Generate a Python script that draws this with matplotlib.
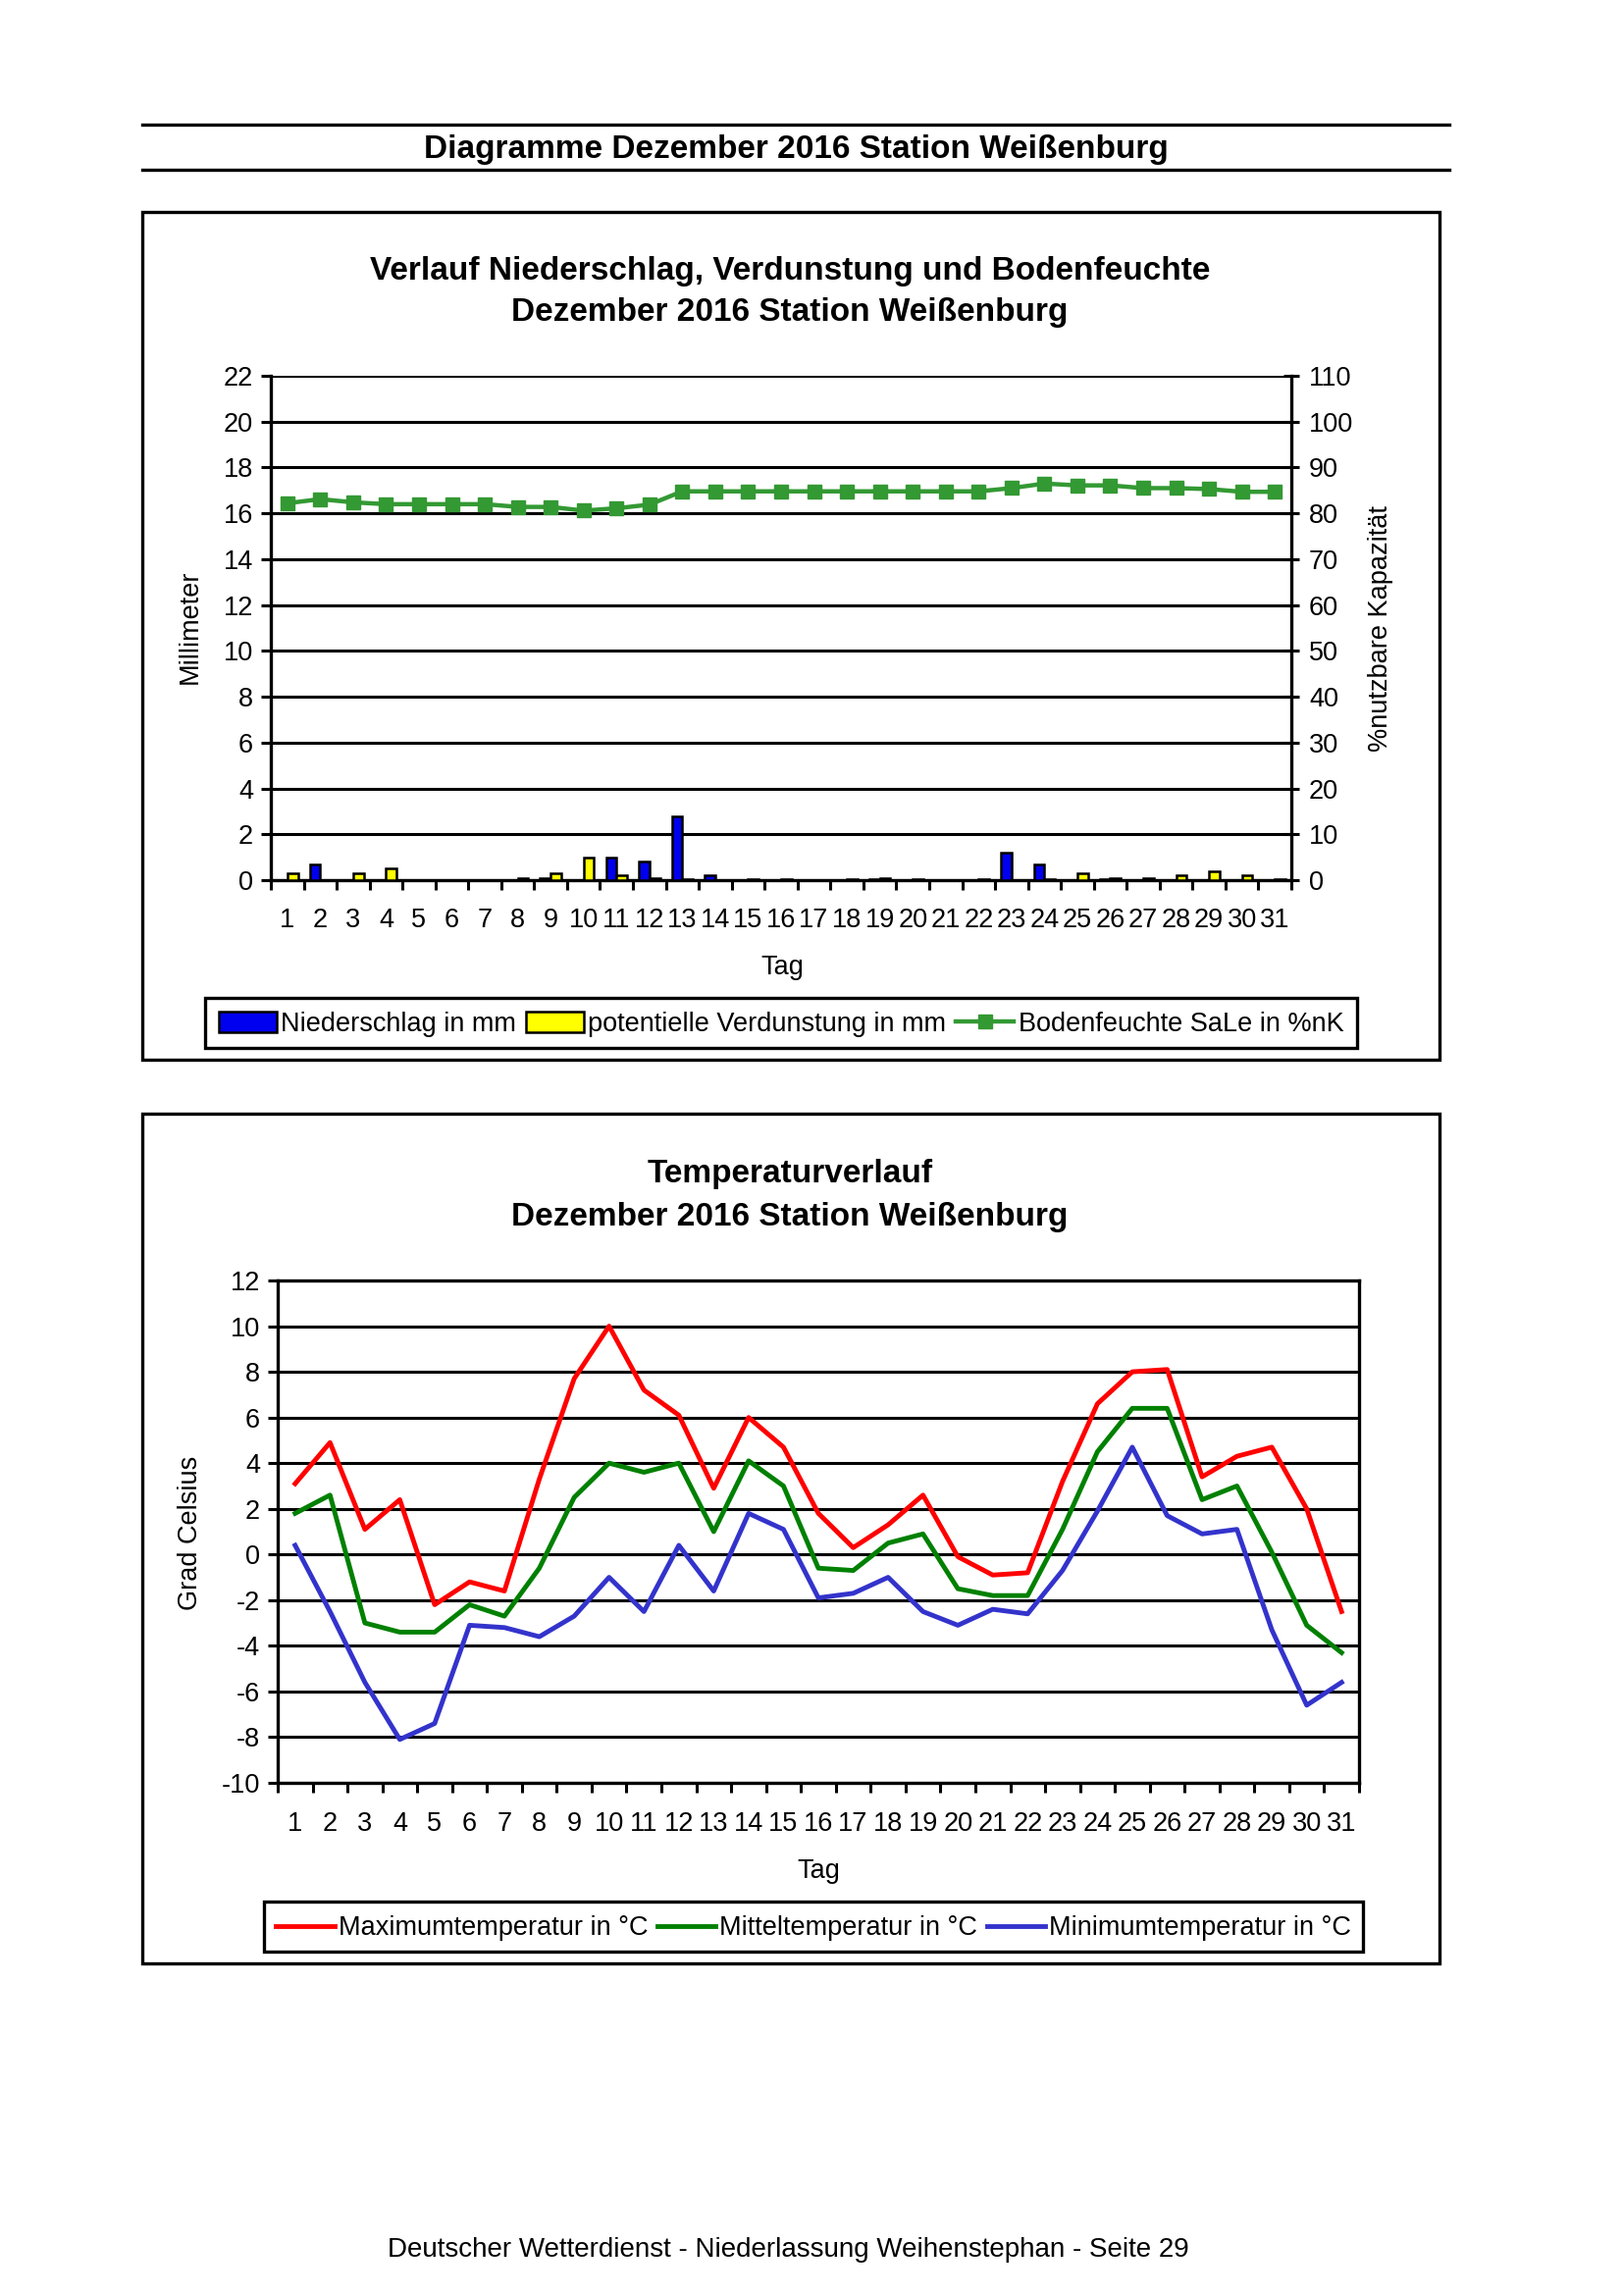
import matplotlib.pyplot as plt
import numpy as np
from matplotlib.patches import Rectangle
from matplotlib.lines import Line2D

plt.rcParams['font.family'] = ['Liberation Sans', 'DejaVu Sans']
plt.rcParams['axes.unicode_minus'] = False

# data
days = np.arange(1, 32)
niederschlag = [0.0, 0.7, 0.0, 0.0, 0.0, 0.0, 0.0, 0.0, 0.1, 0.0,
                1.0, 0.8, 2.8, 0.2, 0.0, 0.0, 0.0, 0.0, 0.05, 0.0,
                0.0, 0.0, 1.2, 0.7, 0.0, 0.05, 0.0, 0.0, 0.0, 0.0, 0.0]
verdunstung = [0.3, 0.0, 0.3, 0.5, 0.0, 0.0, 0.0, 0.1, 0.3, 1.0,
               0.2, 0.1, 0.05, 0.0, 0.05, 0.05, 0.0, 0.05, 0.1, 0.05,
               0.0, 0.05, 0.0, 0.05, 0.3, 0.1, 0.1, 0.2, 0.4, 0.2, 0.05]
bodenfeuchte = [82.2, 83.1, 82.4, 82.0, 82.0, 82.0, 82.0, 81.4, 81.4, 80.6,
                81.1, 81.9, 84.8, 84.8, 84.8, 84.8, 84.8, 84.8, 84.8, 84.8,
                84.8, 84.8, 85.5, 86.5, 86.1, 86.1, 85.5, 85.5, 85.3, 84.7, 84.7]

t_max = [3.1, 4.9, 1.1, 2.4, -2.2, -1.2, -1.6, 3.3, 7.7, 10.0,
         7.2, 6.1, 2.9, 6.0, 4.7, 1.8, 0.3, 1.3, 2.6, -0.1,
         -0.9, -0.8, 3.2, 6.6, 8.0, 8.1, 3.4, 4.3, 4.7, 2.0, -2.5]
t_mit = [1.8, 2.6, -3.0, -3.4, -3.4, -2.2, -2.7, -0.6, 2.5, 4.0,
         3.6, 4.0, 1.0, 4.1, 3.0, -0.6, -0.7, 0.5, 0.9, -1.5,
         -1.8, -1.8, 1.1, 4.5, 6.4, 6.4, 2.4, 3.0, 0.1, -3.1, -4.3]
t_min = [0.4, -2.5, -5.6, -8.1, -7.4, -3.1, -3.2, -3.6, -2.7, -1.0,
         -2.5, 0.4, -1.6, 1.8, 1.1, -1.9, -1.7, -1.0, -2.5, -3.1,
         -2.4, -2.6, -0.7, 1.9, 4.7, 1.7, 0.9, 1.1, -3.3, -6.6, -5.6]

W, H = 1653, 2340
fig = plt.figure(figsize=(W / 100, H / 100), dpi=100)


def rect(x0, y0, x1, y1):
    return [x0 / W, 1 - y1 / H, (x1 - x0) / W, (y1 - y0) / H]


def fx(x):
    return x / W


def fy(y):
    return 1 - y / H


FS = 19.5
TFS = 24
lw_grid = 2.2

# page header
for yy in (127, 173):
    fig.add_artist(Line2D([fx(145), fx(1477)], [fy(yy), fy(yy)], color='black', lw=2.4))
fig.text(fx(811), fy(153), 'Diagramme Dezember 2016 Station Weißenburg',
         ha='center', va='center', fontsize=TFS, fontweight='bold')

# frames around charts
for (x0, y0, x1, y1) in [(145, 216, 1467, 1080), (145, 1135, 1467, 2001)]:
    fig.add_artist(Rectangle((fx(x0), fy(y1)), fx(x1) - fx(x0), fy(y0) - fy(y1),
                             fill=False, edgecolor='black', lw=2.4))

# ---- chart 1: precipitation / evaporation / soil moisture
fig.text(fx(805), fy(276), 'Verlauf Niederschlag, Verdunstung und Bodenfeuchte',
         ha='center', va='center', fontsize=TFS, fontweight='bold')
fig.text(fx(805), fy(319), 'Dezember 2016 Station Weißenburg',
         ha='center', va='center', fontsize=TFS, fontweight='bold')

ax = fig.add_axes(rect(276, 383, 1316, 897))
ax.bar(days - 0.16, niederschlag, width=0.32, color='#0000f0', edgecolor='black', lw=1.8, zorder=3)
ax.bar(days + 0.16, verdunstung, width=0.32, color='#ffff00', edgecolor='black', lw=1.8, zorder=3)
ax.set_xlim(0.5, 31.5)
ax.set_ylim(0, 22)
ax.set_yticks(np.arange(0, 23, 2))
ax.yaxis.grid(True, color='black', lw=lw_grid)
ax.set_axisbelow(True)
ax.set_xticks(np.arange(0.5, 32, 1))
ax.set_xticklabels([])
ax.set_xticks(days, minor=True)
ax.set_xticklabels([str(d) for d in days], minor=True)
ax.tick_params(axis='x', which='major', direction='out', length=7, width=2.2)
ax.tick_params(axis='x', which='minor', length=0, pad=20, labelsize=FS)
ax.tick_params(axis='y', direction='out', length=7, width=2.2, labelsize=FS, pad=6)
for s in ('top', 'right'):
    ax.spines[s].set_visible(False)
for s in ('left', 'bottom'):
    ax.spines[s].set_linewidth(2.4)

ax2 = ax.twinx()
ax2.plot(days, bodenfeuchte, color='#339933', lw=3.2, marker='s', markersize=10, zorder=4)
ax2.set_ylim(0, 110)
ax2.set_yticks(np.arange(0, 111, 10))
ax2.tick_params(axis='y', direction='inout', length=12, width=2.2, labelsize=FS, pad=7)
for s in ('top', 'left', 'bottom'):
    ax2.spines[s].set_visible(False)
ax2.spines['right'].set_linewidth(2.4)

fig.text(fx(797), fy(986), 'Tag', ha='center', va='center', fontsize=FS)
fig.text(fx(194), fy(639), 'Millimeter', ha='center', va='center', rotation=90, fontsize=FS)
fig.text(fx(1407), fy(641), '%nutzbare Kapazität', ha='center', va='center', rotation=90, fontsize=FS)

fig.add_artist(Rectangle((fx(209), fy(1068)), fx(1383) - fx(209), fy(1017) - fy(1068),
                         fill=False, edgecolor='black', lw=2.4))
h1 = [Rectangle((0, 0), 1, 1, facecolor='#0000f0', edgecolor='black', lw=1.8),
      Rectangle((0, 0), 1, 1, facecolor='#ffff00', edgecolor='black', lw=1.8),
      Line2D([], [], color='#339933', lw=3.2, marker='s', markersize=10)]
fig.legend(h1, ['Niederschlag in mm', 'potentielle Verdunstung in mm', 'Bodenfeuchte SaLe in %nK'],
           loc='center', bbox_to_anchor=(fx(796), fy(1044)), ncol=3, frameon=False,
           fontsize=FS, handlelength=2.2, handleheight=0.8, handletextpad=0.15,
           columnspacing=0.35)

# ---- chart 2: temperature
fig.text(fx(805), fy(1197), 'Temperaturverlauf',
         ha='center', va='center', fontsize=TFS, fontweight='bold')
fig.text(fx(805), fy(1241), 'Dezember 2016 Station Weißenburg',
         ha='center', va='center', fontsize=TFS, fontweight='bold')

bx = fig.add_axes(rect(283, 1305, 1385, 1817))
bx.plot(days, t_max, color='#ff0000', lw=3.5, label='Maximumtemperatur in °C')
bx.plot(days, t_mit, color='#008000', lw=3.5, label='Mitteltemperatur in °C')
bx.plot(days, t_min, color='#3333cc', lw=3.5, label='Minimumtemperatur in °C')
bx.set_xlim(0.5, 31.5)
bx.set_ylim(-10, 12)
bx.set_yticks(np.arange(-10, 13, 2))
bx.yaxis.grid(True, color='black', lw=lw_grid)
bx.set_axisbelow(True)
bx.set_xticks(np.arange(0.5, 32, 1))
bx.set_xticklabels([])
bx.set_xticks(days, minor=True)
bx.set_xticklabels([str(d) for d in days], minor=True)
bx.tick_params(axis='x', which='major', direction='out', length=7, width=2.2)
bx.tick_params(axis='x', which='minor', length=0, pad=21, labelsize=FS)
bx.tick_params(axis='y', direction='out', length=7, width=2.2, labelsize=FS, pad=6)
for s in bx.spines.values():
    s.set_linewidth(2.4)

fig.text(fx(834), fy(1907), 'Tag', ha='center', va='center', fontsize=FS)
fig.text(fx(194), fy(1562), 'Grad Celsius', ha='center', va='center', rotation=90, fontsize=FS)

fig.add_artist(Rectangle((fx(269), fy(1989)), fx(1389) - fx(269), fy(1938) - fy(1989),
                         fill=False, edgecolor='black', lw=2.4))
fig.legend(*bx.get_legend_handles_labels(), loc='center', bbox_to_anchor=(fx(829), fy(1965)),
           ncol=3, frameon=False, fontsize=FS, handlelength=2.2, handletextpad=0.15,
           columnspacing=0.35)

# footer
fig.text(fx(803), fy(2293), 'Deutscher Wetterdienst - Niederlassung Weihenstephan - Seite 29',
         ha='center', va='center', fontsize=20)

fig.savefig('out.png', dpi=100)
